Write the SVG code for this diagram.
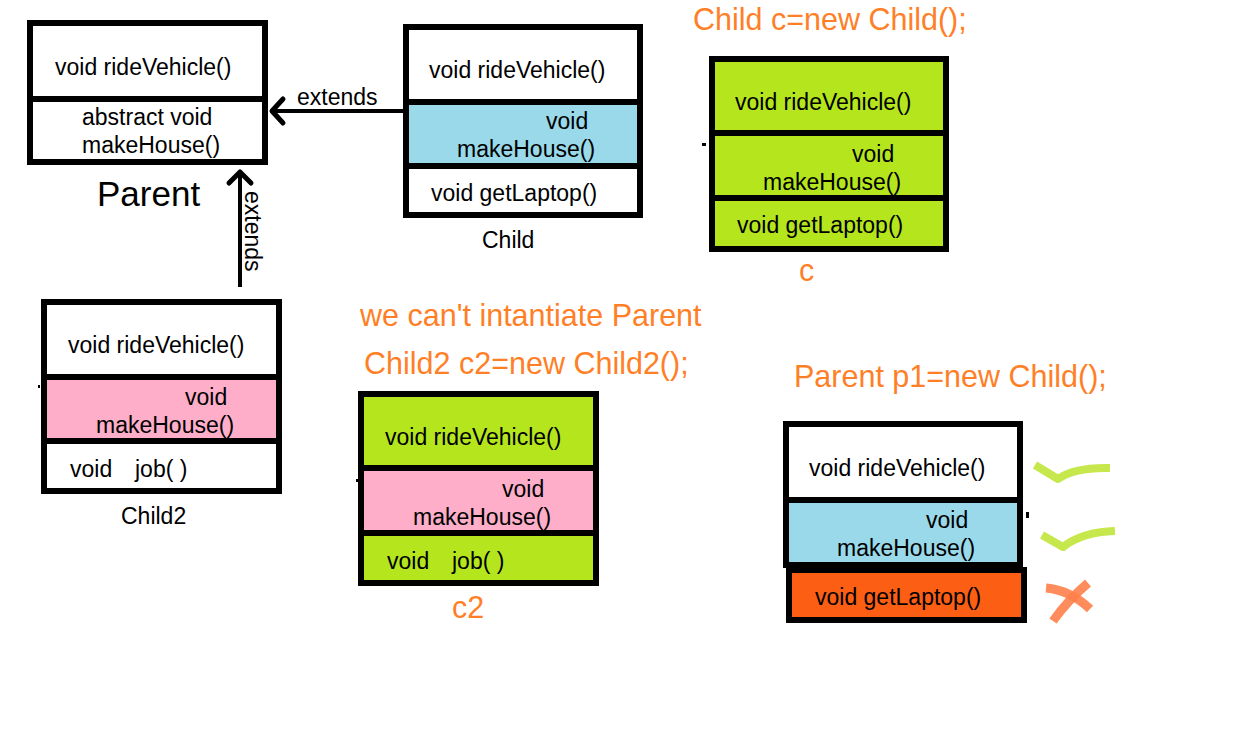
<svg xmlns="http://www.w3.org/2000/svg" width="1233" height="744" viewBox="0 0 1233 744">
<style>
.cell{stroke:#000;stroke-width:6}
.w{fill:#fff}.b{fill:#99D9EA}.g{fill:#B5E61D}.p{fill:#FFAEC9}.o{fill:#FC5E14}
text{font-family:"Liberation Sans",Arial,sans-serif;fill:#000}
.t{font-size:23px}
.or{font-size:30.5px;fill:#FF7F27}
.ln{stroke:#000;stroke-width:4;fill:none}
.ah{stroke:#000;stroke-width:5;fill:none;stroke-linecap:round;stroke-linejoin:round}
.chk{stroke:#C6E84C;stroke-width:8;fill:none;stroke-linecap:butt;stroke-linejoin:round}
.x{stroke:#FF7F4A;stroke-width:9;fill:none;opacity:0.9}
</style>
<rect width="1233" height="744" fill="#fff"/>
<g id="connectors">
<line class="ln" x1="403" y1="111" x2="272" y2="111"/>
<polyline class="ah" points="283,99 272,111 283,123"/>
<text class="t" x="297" y="105" font-size="22.5">extends</text>
<line class="ln" x1="240" y1="287" x2="240" y2="172"/>
<polyline class="ah" points="229,183 240,172 251,183"/>
<text class="t" transform="rotate(90 245 191)" x="245" y="191" font-size="21">extends</text>
</g>
<g id="parent">
<rect class="cell w" x="30" y="23" width="235" height="76"/>
<rect class="cell w" x="30" y="99" width="235" height="63"/>
<text class="t" x="55" y="75">void rideVehicle()</text>
<text class="t" x="82" y="125">abstract void</text>
<text class="t" x="82" y="153">makeHouse()</text>
<text x="97" y="206" font-size="35">Parent</text>
</g>
<g id="child">
<rect class="cell w" x="406" y="27" width="234" height="75"/>
<rect class="cell b" x="406" y="102" width="234" height="64"/>
<rect class="cell w" x="406" y="166" width="234" height="49"/>
<text class="t" x="429" y="78">void rideVehicle()</text>
<text class="t" x="546" y="129">void</text>
<text class="t" x="457" y="157">makeHouse()</text>
<text class="t" x="431" y="201">void getLaptop()</text>
<text class="t" x="482" y="248">Child</text>
</g>
<g id="c">
<text class="or" x="693" y="30">Child c=new Child();</text>
<rect class="cell g" x="712" y="59" width="234" height="74"/>
<rect class="cell g" x="712" y="133" width="234" height="65"/>
<rect class="cell g" x="712" y="198" width="234" height="51"/>
<text class="t" x="735" y="110">void rideVehicle()</text>
<text class="t" x="852" y="162">void</text>
<text class="t" x="763" y="190">makeHouse()</text>
<text class="t" x="737" y="233">void getLaptop()</text>
<text class="or" x="799" y="281">c</text>
<rect x="702" y="143" width="4" height="3" fill="#000"/>
</g>
<g id="child2">
<rect class="cell w" x="44" y="302" width="235" height="75"/>
<rect class="cell p" x="44" y="377" width="235" height="64"/>
<rect class="cell w" x="44" y="441" width="235" height="50"/>
<text class="t" x="68" y="353">void rideVehicle()</text>
<text class="t" x="185" y="405">void</text>
<text class="t" x="96" y="433">makeHouse()</text>
<text class="t" y="477"><tspan x="70">void</tspan><tspan x="135">job( )</tspan></text>
<text class="t" x="121" y="524">Child2</text>
<rect x="38" y="385" width="2" height="3" fill="#000"/>
</g>
<g id="c2">
<text class="or" x="360" y="326">we can't intantiate Parent</text>
<text class="or" x="364" y="374">Child2 c2=new Child2();</text>
<rect class="cell g" x="361" y="394" width="235" height="74"/>
<rect class="cell p" x="361" y="468" width="235" height="65"/>
<rect class="cell g" x="361" y="533" width="235" height="50"/>
<text class="t" x="385" y="445">void rideVehicle()</text>
<text class="t" x="502" y="497">void</text>
<text class="t" x="413" y="525">makeHouse()</text>
<text class="t" y="569"><tspan x="387">void</tspan><tspan x="452">job( )</tspan></text>
<text class="or" x="452" y="618">c2</text>
<rect x="356" y="479" width="2" height="3" fill="#000"/>
</g>
<g id="p1">
<text class="or" x="794" y="387">Parent p1=new Child();</text>
<rect class="cell w" x="786" y="424" width="234" height="76"/>
<rect class="cell b" x="786" y="500" width="234" height="65"/>
<rect class="cell o" x="789" y="570" width="235" height="50"/>
<text class="t" x="809" y="476">void rideVehicle()</text>
<text class="t" x="926" y="528">void</text>
<text class="t" x="837" y="556">makeHouse()</text>
<text class="t" x="815" y="605">void getLaptop()</text>
<rect x="1026" y="512" width="3" height="6" fill="#000"/>
<path class="chk" d="M1035,465 L1058,479 Q1075,467 1110,468"/>
<path class="chk" d="M1042,535 L1063,547 Q1082,532 1115,531"/>
<path class="x" d="M1046,588 Q1070,590 1090,609"/>
<path class="x" d="M1088,583 Q1068,600 1053,621"/>
</g>
</svg>
